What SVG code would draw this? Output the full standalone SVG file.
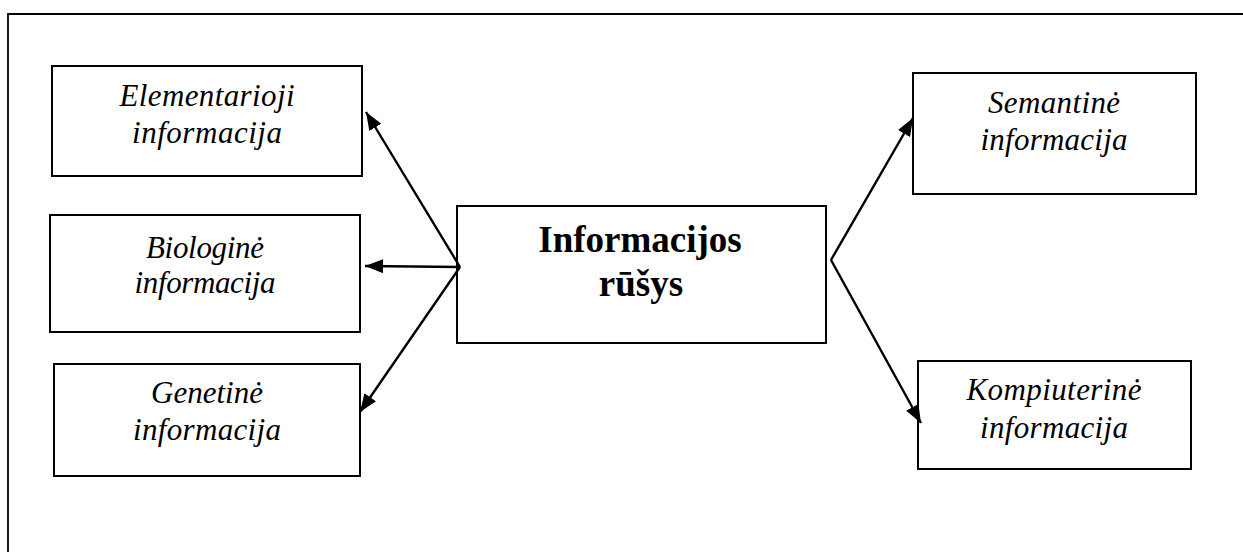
<svg xmlns="http://www.w3.org/2000/svg" width="1243" height="552" viewBox="0 0 1243 552">
<style>
.box{fill:#fff;stroke:#000;stroke-width:2}
.lbl{font-family:"Liberation Serif","Times New Roman",serif;font-style:italic;font-size:31px;fill:#000;text-anchor:middle}
.main{font-family:"Liberation Serif","Times New Roman",serif;font-weight:bold;font-size:37px;fill:#000;text-anchor:middle}
.con{fill:none;stroke:#000;stroke-width:2.4}
</style>
<defs>
<marker id="ah" markerUnits="userSpaceOnUse" markerWidth="20" markerHeight="16" refX="18" refY="7" orient="auto">
<path d="M0,0 L18,7 L0,14 z" fill="#000"/>
</marker>
</defs>
<rect width="1243" height="552" fill="#fff"/>
<path d="M8,560 L8,14 L1250,14" fill="none" stroke="#000" stroke-width="1.8"/>

<g id="elementarioji">
<rect class="box" x="52" y="66" width="310" height="110"/>
<text class="lbl" x="207" y="106" textLength="175" lengthAdjust="spacing">Elementarioji</text>
<text class="lbl" x="207" y="143" textLength="150" lengthAdjust="spacing">informacija</text>
</g>
<g id="biologine">
<rect class="box" x="50" y="215" width="310" height="117"/>
<text class="lbl" x="205" y="258" textLength="118" lengthAdjust="spacing">Biologinė</text>
<text class="lbl" x="205" y="293" textLength="141" lengthAdjust="spacing">informacija</text>
</g>
<g id="genetine">
<rect class="box" x="54" y="364" width="306" height="112"/>
<text class="lbl" x="207" y="403" textLength="112" lengthAdjust="spacing">Genetinė</text>
<text class="lbl" x="207" y="440" textLength="148" lengthAdjust="spacing">informacija</text>
</g>
<g id="center">
<rect class="box" x="457" y="206" width="369" height="137"/>
<text class="main" x="640" y="252">Informacijos</text>
<text class="main" x="641" y="296">rūšys</text>
</g>
<g id="semantine">
<rect class="box" x="913" y="73" width="283" height="121"/>
<text class="lbl" x="1054" y="113" textLength="132" lengthAdjust="spacing">Semantinė</text>
<text class="lbl" x="1054" y="150" textLength="147" lengthAdjust="spacing">informacija</text>
</g>
<g id="kompiuterine">
<rect class="box" x="918" y="361" width="273" height="108"/>
<text class="lbl" x="1054" y="400" textLength="175" lengthAdjust="spacing">Kompiuterinė</text>
<text class="lbl" x="1054" y="438" textLength="148" lengthAdjust="spacing">informacija</text>
</g>

<g id="connectors">
<line class="con" x1="460" y1="267" x2="366" y2="112" marker-end="url(#ah)"/>
<line class="con" x1="460" y1="267" x2="365" y2="266" marker-end="url(#ah)"/>
<line class="con" x1="460" y1="267" x2="360" y2="412" marker-end="url(#ah)"/>
<line class="con" x1="831" y1="260" x2="913" y2="118" marker-end="url(#ah)"/>
<line class="con" x1="831" y1="260" x2="921" y2="423" marker-end="url(#ah)"/>
</g>
</svg>
